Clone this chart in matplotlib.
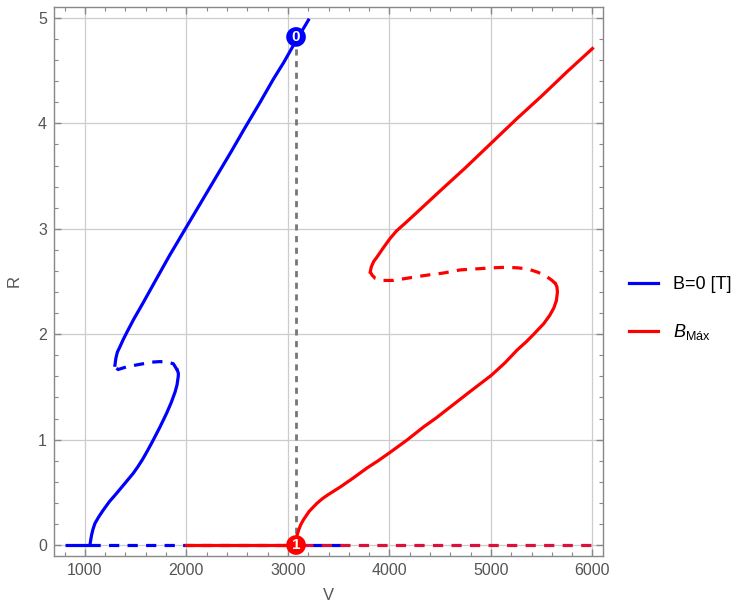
import matplotlib
matplotlib.use('Agg')
import matplotlib.pyplot as plt
from matplotlib.ticker import MultipleLocator

plt.rcParams['font.family'] = ['Liberation Sans', 'DejaVu Sans']
plt.rcParams['mathtext.fontset'] = 'custom'
plt.rcParams['mathtext.rm'] = 'Liberation Sans'
plt.rcParams['mathtext.it'] = 'Liberation Sans:italic'

# blue branch, B=0
blue_base_v = [800, 1050]
blue_base_r = [0, 0]
blue_low_v = [1050, 1058, 1066, 1080, 1099, 1135, 1180, 1240, 1312, 1390, 1476, 1520,
              1570, 1620, 1673, 1740, 1805, 1850, 1888, 1908, 1920, 1921, 1910]
blue_low_r = [0, 0.05, 0.095, 0.15, 0.205, 0.265, 0.33, 0.41, 0.49, 0.58, 0.68, 0.74,
              0.815, 0.90, 0.995, 1.12, 1.25, 1.35, 1.45, 1.52, 1.60, 1.63, 1.66]
blue_mid_v = [1910, 1871, 1810, 1740, 1660, 1575, 1490, 1410, 1360, 1328, 1305, 1296]
blue_mid_r = [1.66, 1.72, 1.735, 1.74, 1.735, 1.72, 1.705, 1.69, 1.675, 1.665, 1.68, 1.706]
blue_top_v = [1296, 1305, 1320, 1345, 1378, 1420, 1480, 1575, 1673, 1830, 2002, 2150,
              2298, 2440, 2578, 2720, 2857, 2960, 3054, 3202]
blue_top_r = [1.706, 1.77, 1.83, 1.88, 1.95, 2.03, 2.14, 2.30, 2.47, 2.74, 3.02, 3.26,
              3.50, 3.73, 3.96, 4.19, 4.42, 4.58, 4.74, 4.98]
blue_zero_v = [1050, 3550]
blue_zero_r = [0, 0]

# red branch, B max
red_zero_solid_v = [2000, 3090]
red_zero_dash_v = [3090, 6000]
red_low_v = [3085, 3087, 3105, 3125, 3153, 3210, 3285, 3340, 3400, 3515, 3650, 3778,
             3890, 4008, 4172, 4336, 4460, 4600, 4800, 5004, 5140, 5258, 5350, 5422,
             5520, 5580, 5620, 5645, 5655, 5650, 5635]
red_low_r = [0, 0.08, 0.14, 0.19, 0.24, 0.32, 0.395, 0.44, 0.48, 0.55, 0.64, 0.73,
             0.80, 0.88, 0.995, 1.12, 1.205, 1.31, 1.46, 1.61, 1.73, 1.85, 1.93, 2.0,
             2.1, 2.18, 2.25, 2.32, 2.40, 2.45, 2.48]
red_mid_v = [5635, 5602, 5530, 5455, 5360, 5256, 5140, 5027, 4860, 4698, 4530, 4369,
             4200, 4040, 3930, 3860, 3830, 3811]
red_mid_r = [2.48, 2.51, 2.56, 2.59, 2.62, 2.63, 2.635, 2.63, 2.62, 2.61, 2.58, 2.56,
             2.535, 2.51, 2.51, 2.53, 2.56, 2.59]
red_top_v = [3811, 3822, 3845, 3876, 3940, 4008, 4070, 4140, 4220, 4304, 4500, 4750,
             5000, 5250, 5500, 5750, 6000]
red_top_r = [2.59, 2.64, 2.69, 2.73, 2.82, 2.91, 2.98, 3.04, 3.11, 3.185, 3.36, 3.58,
             3.81, 4.04, 4.26, 4.49, 4.71]

# marked points
mark_v = [3080, 3080]
mark_r = [4.82, 0]
mark_txt = ['0', '1']

blue = '#0000ff'
red = '#ff0000'
lw = 2.3
dash = (0, (3.2, 2.6))

fig = plt.figure(figsize=(7.44, 6.04), dpi=100)
ax = fig.add_axes([0.0726, 0.0795, 0.7379, 0.9089])

ax.plot(blue_zero_v, blue_zero_r, color=blue, lw=lw, linestyle=dash)
ax.plot(red_zero_solid_v, [0, 0], color=red, lw=lw)
ax.plot(red_zero_dash_v, [0, 0], color='#dc1038', lw=lw, linestyle=(4, (3.2, 2.6)))
ax.plot(blue_base_v, blue_base_r, color=blue, lw=lw, solid_capstyle='butt')
ax.plot(blue_low_v, blue_low_r, color=blue, lw=lw, solid_joinstyle='round')
ax.plot(blue_mid_v, blue_mid_r, color=blue, lw=lw, linestyle=dash)
ax.plot(blue_top_v, blue_top_r, color=blue, lw=lw, solid_joinstyle='round', label='B=0 [T]')
ax.plot(red_low_v, red_low_r, color=red, lw=lw, solid_joinstyle='round',
        label=r'$B_{\mathrm{Máx}}$')
ax.plot(red_mid_v, red_mid_r, color=red, lw=lw, linestyle=dash)
ax.plot(red_top_v, red_top_r, color=red, lw=lw, solid_joinstyle='round')

ax.plot([mark_v[0], mark_v[0]], [0, mark_r[0]], color='#777777', lw=2,
        linestyle=(0, (2.2, 2.0)), zorder=1)
for v, r, t, c in zip(mark_v, mark_r, mark_txt, [blue, red]):
    ax.scatter([v], [r], s=200, color=c, zorder=5, edgecolors='none')
    ax.text(v, r, t, color='white', fontsize=11, fontweight='bold',
            ha='center', va='center', zorder=6)

ax.set_xlim(696, 6104)
ax.set_ylim(-0.104, 5.104)
ax.xaxis.set_major_locator(MultipleLocator(1000))
ax.xaxis.set_minor_locator(MultipleLocator(200))
ax.yaxis.set_major_locator(MultipleLocator(1))
ax.yaxis.set_minor_locator(MultipleLocator(0.2))
ax.grid(True, which='major', color='#cccccc', lw=0.9)
ax.set_axisbelow(True)
ax.tick_params(which='both', direction='in', top=True, right=True,
               colors='#888888', labelcolor='#555555', labelsize=11.5)
ax.tick_params(which='major', length=5, width=1, pad=5)
ax.tick_params(which='minor', length=3, width=0.8)
for s in ax.spines.values():
    s.set_color('#888888')
    s.set_linewidth(1)

ax.set_xlabel('V', color='#555555', fontsize=12, labelpad=7)
ax.set_ylabel('R', color='#555555', fontsize=12, labelpad=12)

fig.legend(loc='center left', bbox_to_anchor=(0.845, 0.488), frameon=False,
           borderpad=0, borderaxespad=0, fontsize=13, handlelength=1.6,
           labelspacing=1.6, handletextpad=0.85)

fig.savefig('out.png', dpi=100)
